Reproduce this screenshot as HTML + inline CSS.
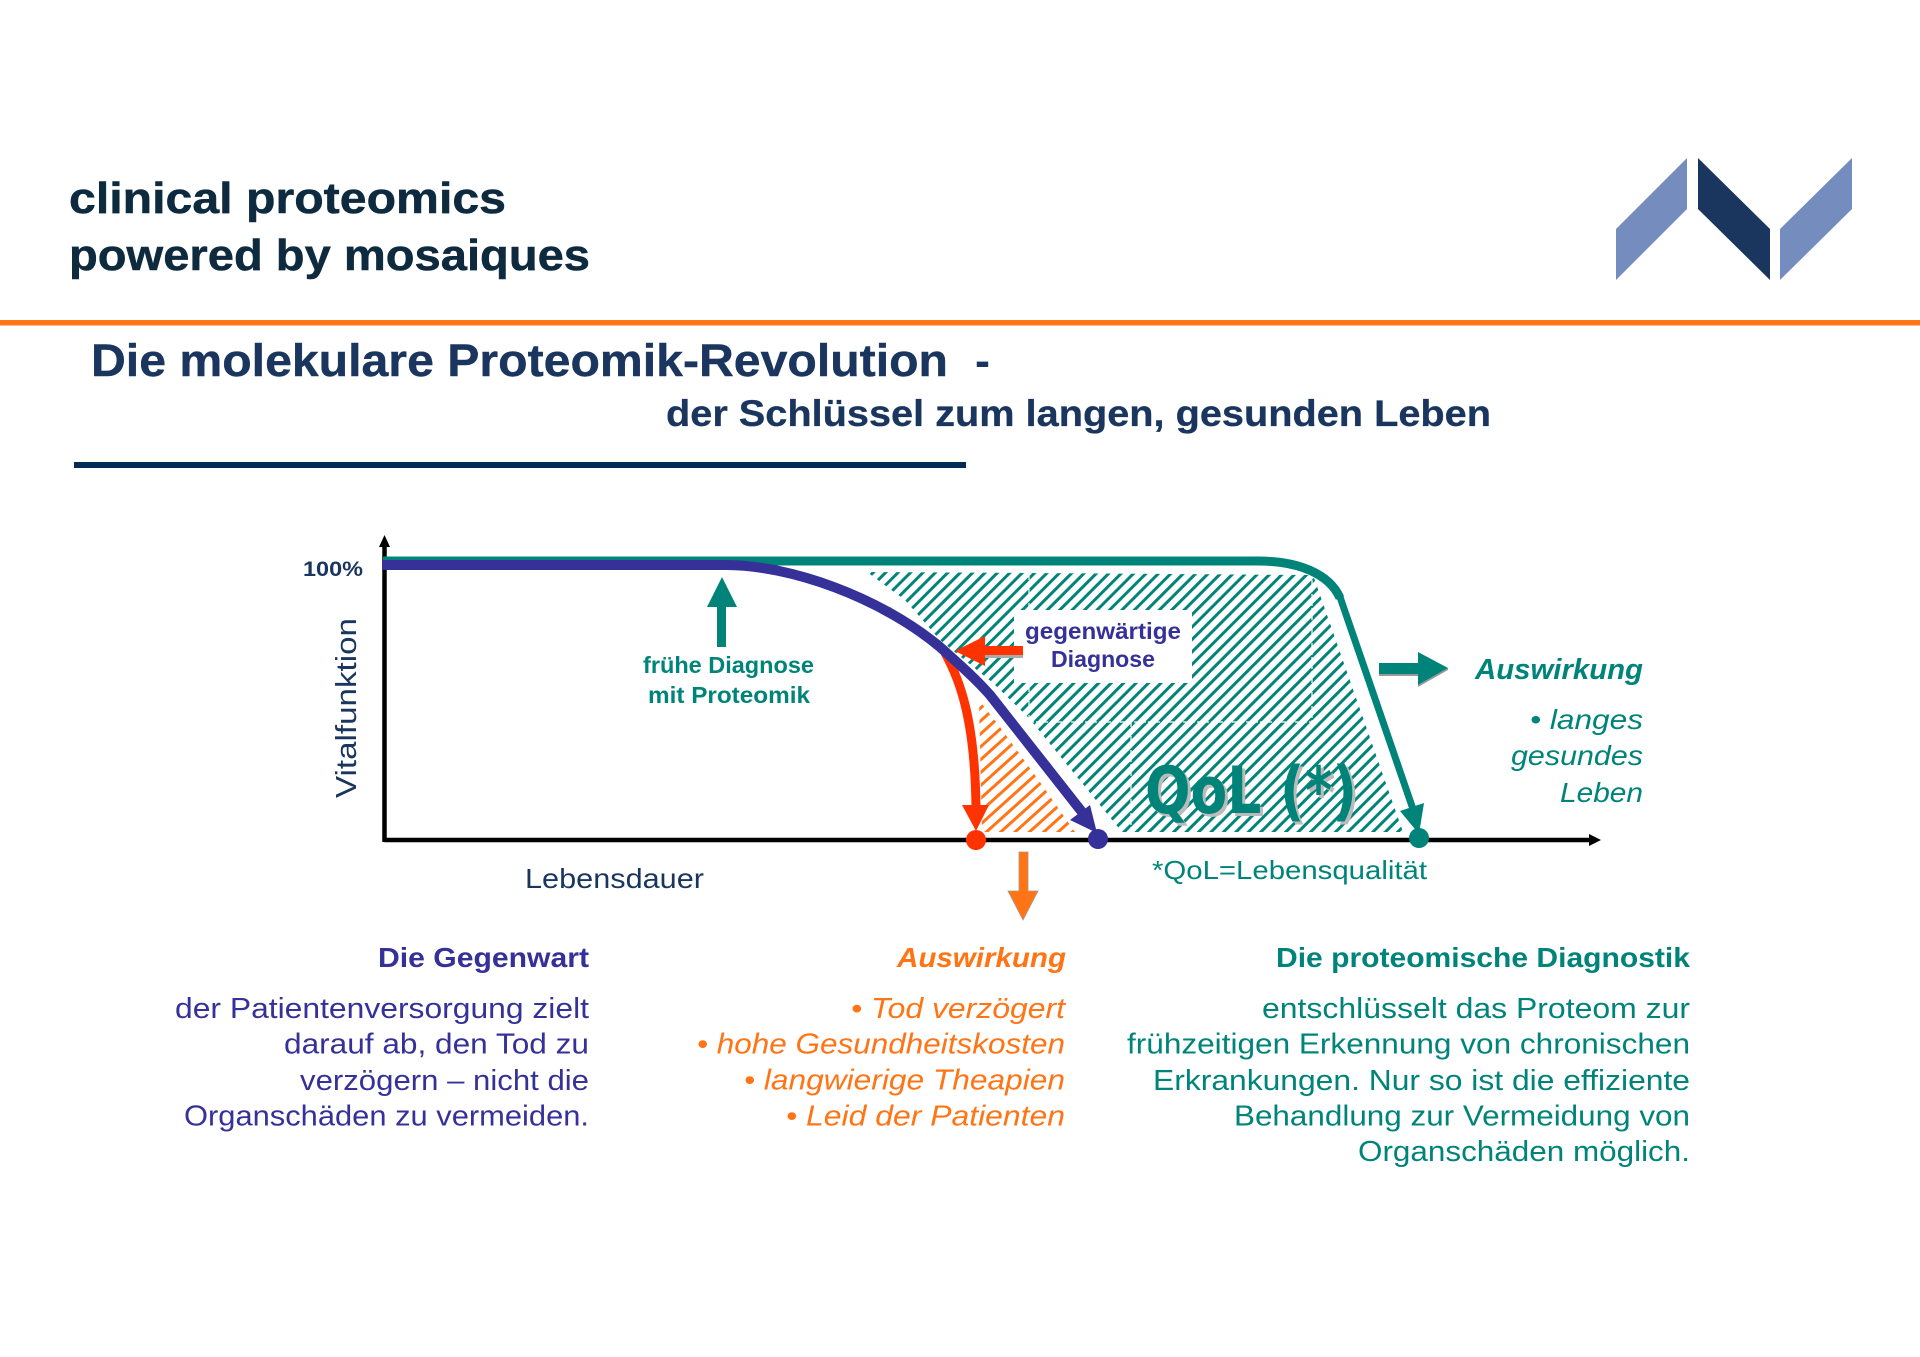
<!DOCTYPE html>
<html lang="de">
<head>
<meta charset="utf-8">
<title>Die molekulare Proteomik-Revolution</title>
<style>
html,body{margin:0;padding:0;background:#fff;width:1920px;height:1357px;overflow:hidden}
svg{display:block}
text{font-family:"Liberation Sans",sans-serif}
.b{font-weight:700}
.i{font-style:italic}
.g{fill:#00847a}
.p{fill:#353199}
.o{fill:#ff7415}
.n{fill:#1a355e}
</style>
</head>
<body>
<svg xmlns="http://www.w3.org/2000/svg" width="1920" height="1357" viewBox="0 0 1920 1357">
<defs>
<pattern id="hg" width="8.8" height="8.8" patternUnits="userSpaceOnUse" patternTransform="rotate(45)">
<rect width="3" height="8.8" fill="#00847a"/>
</pattern>
<pattern id="ho" width="9.6" height="9.6" patternUnits="userSpaceOnUse" patternTransform="rotate(48)">
<rect width="3" height="9.6" fill="#ff7415"/>
</pattern>
</defs>
<rect width="1920" height="1357" fill="#fff"/>

<!-- header -->
<text x="69" y="213" class="b" font-size="44" fill="#0e2a3f" stroke="#0e2a3f" stroke-width=".5" textLength="437" lengthAdjust="spacingAndGlyphs">clinical proteomics</text>
<text x="69" y="270" class="b" font-size="44" fill="#0e2a3f" stroke="#0e2a3f" stroke-width=".5" textLength="521" lengthAdjust="spacingAndGlyphs">powered by mosaiques</text>
<polygon points="1616,229 1687,158 1687,209 1616,280" fill="#758cbf"/>
<polygon points="1698,158 1770,229 1770,280 1698,209" fill="#1a355e"/>
<polygon points="1780,229 1852,158 1852,209 1780,280" fill="#758cbf"/>
<rect x="0" y="320" width="1920" height="5.5" fill="#ff7415"/>
<text x="91" y="376" class="b n" font-size="45" stroke="#1a355e" stroke-width=".4" textLength="857" lengthAdjust="spacingAndGlyphs">Die molekulare Proteomik-Revolution</text>
<text x="975" y="376" class="b n" font-size="45">-</text>
<text x="666" y="426" class="b n" font-size="37" stroke="#1a355e" stroke-width=".3" textLength="825" lengthAdjust="spacingAndGlyphs">der Schlüssel zum langen, gesunden Leben</text>
<rect x="74" y="462" width="892" height="6" fill="#032b55"/>

<!-- hatched areas -->
<polygon points="867,572 1030,573 1313,575 1403,832 1122,832 1028,717 993,683 940,640 905,600" fill="url(#hg)"/>
<polygon points="979,700 1000,727 1040,782 1075,832 982,832" fill="url(#ho)"/>
<g stroke="#fff" stroke-width="1.2" stroke-dasharray="5 2" fill="none">
<path d="M1029 575V722H1312V575M1131 722V836"/>
</g>

<!-- axes -->
<path d="M384.5 842V545M384.5 840H1592" stroke="#000" stroke-width="4.5" fill="none"/>
<polygon points="379,547 390,547 384.5,535" fill="#000"/>
<polygon points="1589,834 1589,846 1601,840" fill="#000"/>

<!-- green curve -->
<path d="M383 561H1258C1297 561 1329 573 1340 598" stroke="#00847a" stroke-width="9" fill="none"/>
<path d="M1340 597L1414 812" stroke="#00847a" stroke-width="7" fill="none"/>
<polygon points="1400,811 1424,803 1419,834" fill="#00847a"/>
<circle cx="1419" cy="838" r="10" fill="#00847a"/>

<!-- red curve -->
<path d="M945 653C960 680 975 720 976 808" stroke="#ff3300" stroke-width="9" fill="none"/>
<polygon points="962,805 989,805 976,831" fill="#ff3300"/>
<circle cx="976" cy="840" r="10" fill="#ff3300"/>

<!-- blue curve -->
<path d="M382 565H726C790 565 880 597 940 647C960 665 975 678 990 695L1082 812" stroke="#353199" stroke-width="10" fill="none"/>
<polygon points="1090,805 1070,820 1097,833" fill="#353199"/>
<circle cx="1098" cy="839" r="10" fill="#353199"/>

<!-- labels in chart -->
<rect x="1014" y="610" width="178" height="73" fill="#fff"/>
<rect x="985" y="655" width="38" height="3" fill="#aaa"/>
<polygon points="955,651 985,636 985,646 1023,646 1023,655 985,655 985,666" fill="#ff3300"/>
<text x="1025" y="639" class="b p" font-size="23" textLength="156" lengthAdjust="spacingAndGlyphs">gegenwärtige</text>
<text x="1051" y="667" class="b p" font-size="23" textLength="104" lengthAdjust="spacingAndGlyphs">Diagnose</text>

<polygon points="722,577 737,607 726,607 726,647 717,647 717,607 707,607" fill="#00847a"/>
<text x="643" y="673" class="b g" font-size="23" textLength="171" lengthAdjust="spacingAndGlyphs">frühe Diagnose</text>
<text x="648" y="703" class="b g" font-size="23" textLength="162" lengthAdjust="spacingAndGlyphs">mit Proteomik</text>

<text x="303" y="576" class="b n" font-size="21" textLength="60" lengthAdjust="spacingAndGlyphs">100%</text>
<text transform="translate(356 798) rotate(-90)" class="n" font-size="29" textLength="180" lengthAdjust="spacingAndGlyphs">Vitalfunktion</text>
<text x="525" y="888" class="n" font-size="28" textLength="179" lengthAdjust="spacingAndGlyphs">Lebensdauer</text>

<text x="1145" y="813" class="b g" font-size="65" textLength="212" lengthAdjust="spacingAndGlyphs" style="font-family:'DejaVu Sans',sans-serif;filter:drop-shadow(3px 3px 0 #bbb)">QoL (*)</text>
<text x="1152" y="879" class="g" font-size="26" textLength="275" lengthAdjust="spacingAndGlyphs">*QoL=Lebensqualität</text>

<!-- arrows -->
<polygon points="1379,674 1418,674 1418,685 1448,668 1448,670 1418,687 1418,676 1379,676" fill="#999"/>
<polygon points="1379,663 1418,663 1418,652 1448,668 1418,685 1418,674 1379,674" fill="#00847a"/>
<polygon points="1019,852 1028,852 1028,891 1038,891 1023,920 1008,891 1019,891" fill="#ff7415" stroke="#a98" stroke-width=".8"/>

<!-- right text -->
<text x="1475" y="679" class="b i g" font-size="29" textLength="168" lengthAdjust="spacingAndGlyphs">Auswirkung</text>
<text x="1530" y="729" class="i g" font-size="28" textLength="113" lengthAdjust="spacingAndGlyphs">• langes</text>
<text x="1511" y="765" class="i g" font-size="28" textLength="132" lengthAdjust="spacingAndGlyphs">gesundes</text>
<text x="1560" y="802" class="i g" font-size="28" textLength="83" lengthAdjust="spacingAndGlyphs">Leben</text>

<!-- left column -->
<text x="378" y="967" class="b p" font-size="28" textLength="211" lengthAdjust="spacingAndGlyphs">Die Gegenwart</text>
<g class="p" font-size="29">
<text x="175" y="1018" textLength="414" lengthAdjust="spacingAndGlyphs">der Patientenversorgung zielt</text>
<text x="284" y="1053.5" textLength="305" lengthAdjust="spacingAndGlyphs">darauf ab, den Tod zu</text>
<text x="300" y="1090" textLength="289" lengthAdjust="spacingAndGlyphs">verzögern – nicht die</text>
<text x="184" y="1125.5" textLength="405" lengthAdjust="spacingAndGlyphs">Organschäden zu vermeiden.</text>
</g>

<!-- middle column -->
<text x="897" y="967" class="b i o" font-size="28" textLength="169" lengthAdjust="spacingAndGlyphs">Auswirkung</text>
<g class="i o" font-size="29">
<text x="851" y="1018" textLength="214" lengthAdjust="spacingAndGlyphs">• Tod verzögert</text>
<text x="697" y="1053.5" textLength="368" lengthAdjust="spacingAndGlyphs">• hohe Gesundheitskosten</text>
<text x="744" y="1089.5" textLength="321" lengthAdjust="spacingAndGlyphs">• langwierige Theapien</text>
<text x="786" y="1125.5" textLength="279" lengthAdjust="spacingAndGlyphs">• Leid der Patienten</text>
</g>

<!-- right column -->
<text x="1276" y="967" class="b g" font-size="28" textLength="414" lengthAdjust="spacingAndGlyphs">Die proteomische Diagnostik</text>
<g class="g" font-size="29">
<text x="1262" y="1018" textLength="428" lengthAdjust="spacingAndGlyphs">entschlüsselt das Proteom zur</text>
<text x="1127" y="1053.5" textLength="563" lengthAdjust="spacingAndGlyphs">frühzeitigen Erkennung von chronischen</text>
<text x="1153" y="1090" textLength="537" lengthAdjust="spacingAndGlyphs">Erkrankungen. Nur so ist die effiziente</text>
<text x="1234" y="1125.5" textLength="456" lengthAdjust="spacingAndGlyphs">Behandlung zur Vermeidung von</text>
<text x="1358" y="1161" textLength="332" lengthAdjust="spacingAndGlyphs">Organschäden möglich.</text>
</g>
</svg>
</body>
</html>
